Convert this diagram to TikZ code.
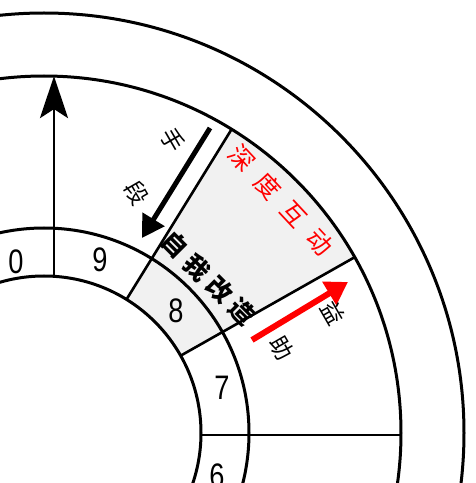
\documentclass[tikz,border=0pt]{standalone}
\usepackage{fontspec}
\newfontfamily\cjk{Noto Sans CJK SC}
\newfontfamily\digitfont{Liberation Sans}
\usetikzlibrary{arrows.meta}
\tikzset{
  ring/.style={line width=3pt, draw=black},
  spoke/.style={line width=2.6pt, draw=black},
  cell/.style={fill=gray!11},
  num/.style={font=\digitfont\fontsize{34}{34}\selectfont, xscale=0.8, inner sep=0pt},
  redtxt/.style={font=\cjk\fontsize{25}{25}\selectfont, text=red, inner sep=0pt},
  boldtxt/.style={font=\cjk\bfseries\fontsize{25}{25}\selectfont, text=black, inner sep=0pt},
  smalltxt/.style={font=\cjk\fontsize{23}{23}\selectfont, text=black, inner sep=0pt}
}
\begin{document}
\begin{tikzpicture}[x=1pt,y=1pt]
\useasboundingbox (0,0) rectangle (476,483);
\begin{scope}[shift={(44,50)}]
\coordinate (O) at (0,0);
% shaded cells
\fill[cell] (29.5:205) arc[start angle=29.5,end angle=58.3,radius=205] -- (58.3:357) arc[start angle=58.3,end angle=29.5,radius=357] -- cycle;
\fill[cell] (29.5:157) arc[start angle=29.5,end angle=58.3,radius=157] -- (58.3:205) arc[start angle=58.3,end angle=29.5,radius=205] -- cycle;
% circles
\draw[ring] (O) circle[radius=157];
\draw[ring] (O) circle[radius=205];
\draw[ring] (O) circle[radius=357];
\draw[ring] (O) circle[radius=420];
% spokes
\coordinate (s0a) at (157,-2);
\coordinate (s0b) at (357,-2);
\coordinate (s1a) at (29.5:157);
\coordinate (s1b) at (29.5:357);
\coordinate (s2a) at (58.3:157);
\coordinate (s2b) at (58.3:357);
\coordinate (s3a) at (10,156.7);
\coordinate (s3b) at (10,356.9);
\draw[spoke] (s0a) -- (s0b);
\draw[spoke] (s1a) -- (s1b);
\draw[spoke] (s2a) -- (s2b);
\draw[spoke, -{Stealth[length=42pt,width=28pt,inset=9pt]}] (s3a) -- (s3b);
% numbers
\node[num] (n10) at (-28,171) {0};
\node[num] (n9) at (56,173) {9};
\node[num] (n8) at (132,122) {8};
\node[num] (n7) at (178,45) {7};
\node[num] (n6) at (173,-43) {6};
% black arrow
\coordinate (ka) at (166,305);
\coordinate (kb) at (98,195);
\draw[line width=5pt, -{Triangle[length=22pt,width=25pt]}] (ka) -- (kb);
% red arrow
\coordinate (ra) at (208,93);
\coordinate (rb) at (304,151);
\draw[line width=6pt, red, -{Triangle[length=22pt,width=26pt]}] (ra) -- (rb);
% rotated labels in the shaded sector
\node[redtxt, rotate=-47] (t1) at (237,233) {深\hspace{13pt}度\hspace{13pt}互\hspace{13pt}动};
\node[boldtxt, rotate=-45] (u1) at (164.5,154.5) {自\hspace{6.5pt}我\hspace{6.5pt}改\hspace{6.5pt}造};
% arrow labels
\node[smalltxt, rotate=-60] (v1) at (129,293) {手};
\node[smalltxt, rotate=-60] (v2) at (93,240) {段};
\node[smalltxt, rotate=-60] (w1) at (238,85) {助};
\node[smalltxt, rotate=-60] (w2) at (289,120) {益};
\end{scope}
\end{tikzpicture}
\end{document}
